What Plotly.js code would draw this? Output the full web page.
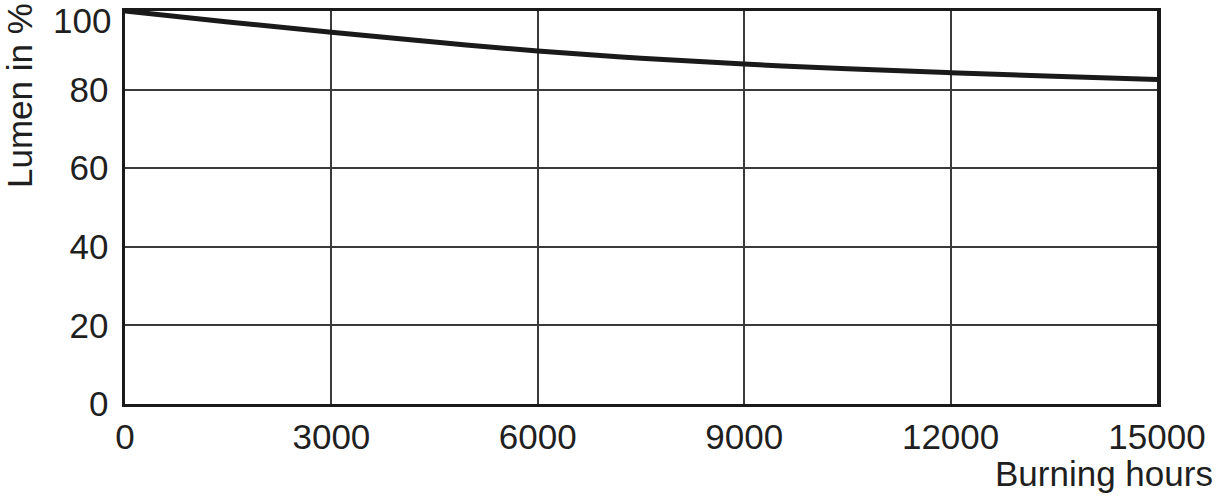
<!DOCTYPE html>
<html>
<head>
<meta charset="utf-8">
<script src="https://cdn.plot.ly/plotly-3.0.1.min.js"></script>
<style>
  html, body { margin: 0; padding: 0; background: #fff; }
  #chart { width: 1216px; height: 500px; }
</style>
</head>
<body>
<div id="chart"></div>
<script>
// Data
const hours = [0, 1500, 3000, 4500, 6000, 7500, 9000, 10500, 12000, 13500, 15000];
const lumen = [100, 97.2, 94.6, 92.1, 89.8, 88.0, 86.5, 85.3, 84.3, 83.4, 82.6];
const xTicks = [0, 3000, 6000, 9000, 12000, 15000];
const yTicks = [0, 20, 40, 60, 80, 100];
const xTitle = "Burning hours";
const yTitle = "Lumen in %";

const FONT = "Liberation Sans, Arial, sans-serif";
const TXT = "#1f1f1f";
const FS = 35;

const trace = {
  x: hours,
  y: lumen,
  type: "scatter",
  mode: "lines",
  line: { color: "#1a1a1a", width: 5, shape: "spline", smoothing: 1 },
  hoverinfo: "skip",
  showlegend: false
};

// The top tick (100) sits on the upper frame; its label is drawn as an
// annotation anchored at the page top so it is not clipped.
const topTick = yTicks[yTicks.length - 1];
const yLabels = yTicks.map(v => (v === topTick ? "" : String(v)));

const layout = {
  width: 1216,
  height: 500,
  margin: { l: 125, r: 59, t: 11, b: 96, pad: 0 },
  paper_bgcolor: "#ffffff",
  plot_bgcolor: "#ffffff",
  font: { family: FONT, size: FS, color: TXT },
  xaxis: {
    range: [0, 15000],
    tickvals: xTicks,
    ticktext: xTicks.map(String),
    showgrid: true,
    gridcolor: "#3a3a3a",
    gridwidth: 2,
    zeroline: false,
    showline: true,
    linecolor: "#1a1a1a",
    linewidth: 3,
    mirror: true,
    ticks: "",
    ticklabelstandoff: 0,
    ticklabeloverflow: "allow",
    tickfont: { family: FONT, size: FS, color: TXT },
    fixedrange: true
  },
  yaxis: {
    range: [0, 100],
    tickvals: yTicks,
    ticktext: yLabels,
    showgrid: true,
    gridcolor: "#3a3a3a",
    gridwidth: 2,
    zeroline: false,
    showline: true,
    linecolor: "#1a1a1a",
    linewidth: 3.5,
    mirror: true,
    ticks: "",
    ticklabelstandoff: 6,
    ticklabeloverflow: "allow",
    tickfont: { family: FONT, size: FS, color: TXT },
    fixedrange: true
  },
  annotations: [
    {
      text: xTitle,
      xref: "paper", yref: "paper",
      x: 1, y: 0,
      xanchor: "right", yanchor: "middle",
      showarrow: false,
      font: { family: FONT, size: FS, color: TXT }
    },
    {
      text: yTitle,
      textangle: -90,
      xref: "paper", yref: "paper",
      x: 0, y: 0,
      xanchor: "center", yanchor: "middle",
      showarrow: false,
      font: { family: FONT, size: FS, color: TXT }
    },
    {
      text: String(topTick),
      xref: "paper", yref: "y",
      x: 0, y: topTick,
      xanchor: "right", yanchor: "top",
      xshift: -13, yshift: 11,
      borderpad: 0,
      showarrow: false,
      font: { family: FONT, size: FS, color: TXT }
    }
  ]
};

// Place axis-title annotations in pixel terms relative to the plot area
const plotW = 1216 - 125 - 59;
const plotH = 500 - 11 - 96;
layout.annotations[0].x = (1215 - 125) / plotW;
layout.annotations[0].y = (404 - 474) / plotH;
layout.annotations[1].x = (19 - 125) / plotW;
layout.annotations[1].y = (404 - 96) / plotH;

Plotly.newPlot("chart", [trace], layout, { staticPlot: true, displayModeBar: false });
</script>
</body>
</html>
